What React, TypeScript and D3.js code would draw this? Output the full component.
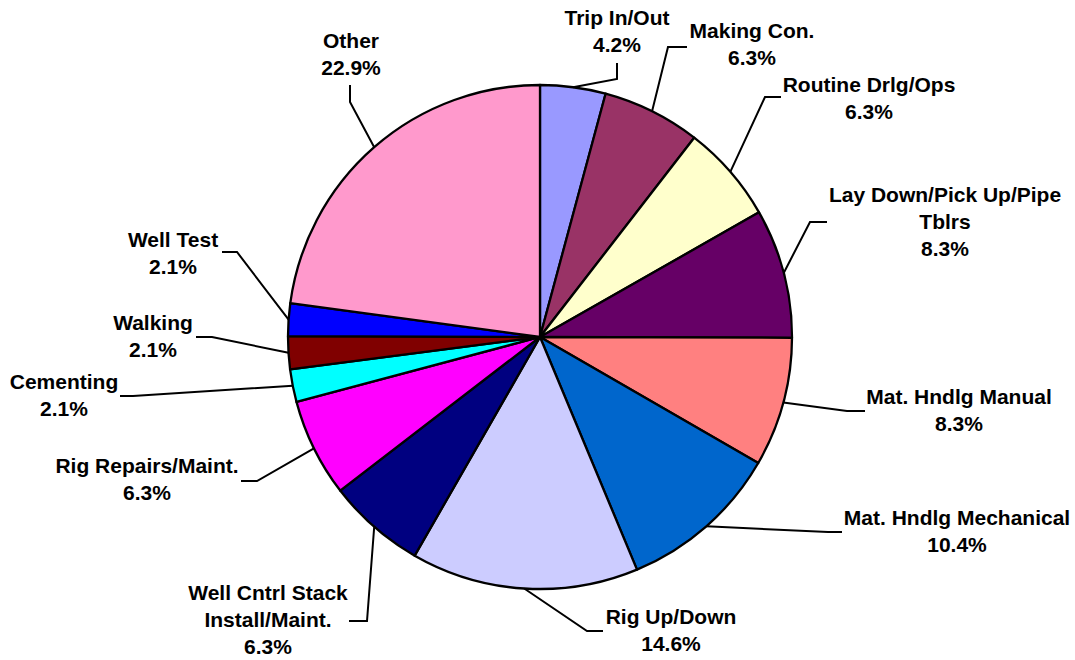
import React from "react";
import * as d3 from "d3";

const categories: string[][] = [
  ["Trip In/Out"],
  ["Making Con."],
  ["Routine Drlg/Ops"],
  ["Lay Down/Pick Up/Pipe", "Tblrs"],
  ["Mat. Hndlg Manual"],
  ["Mat. Hndlg Mechanical"],
  ["Rig Up/Down"],
  ["Well Cntrl Stack", "Install/Maint."],
  ["Rig Repairs/Maint."],
  ["Cementing"],
  ["Walking"],
  ["Well Test"],
  ["Other"],
];
const percents: number[] = [4.2, 6.3, 6.3, 8.3, 8.3, 10.4, 14.6, 6.3, 6.3, 2.1, 2.1, 2.1, 22.9];
const colors: string[] = [
  "#9999FF", "#993366", "#FFFFCC", "#660066", "#FF8080", "#0066CC", "#CCCCFF",
  "#000080", "#FF00FF", "#00FFFF", "#800000", "#0000FF", "#FF99CC",
];

// label layout: text center x, first baseline y, leader elbow, leader end
const labelLayout: { x: number; y: number; elbow: [number, number]; end: [number, number] }[] = [
  { x: 617, y: 25, elbow: [617, 79], end: [617, 63] },
  { x: 752, y: 38, elbow: [668, 47], end: [687, 47] },
  { x: 869, y: 92, elbow: [765, 97], end: [781, 97] },
  { x: 945, y: 202, elbow: [810, 222], end: [827, 222] },
  { x: 959, y: 404, elbow: [847, 411], end: [865, 411] },
  { x: 957, y: 525, elbow: [828, 532], end: [842, 532] },
  { x: 671, y: 624, elbow: [587, 631], end: [603, 631] },
  { x: 268, y: 600, elbow: [367, 621], end: [349, 621] },
  { x: 147, y: 473, elbow: [257, 481], end: [241, 481] },
  { x: 64, y: 389, elbow: [133, 396], end: [120, 396] },
  { x: 153, y: 330, elbow: [212, 337], end: [196, 337] },
  { x: 173, y: 247, elbow: [237, 252], end: [222, 252] },
  { x: 351, y: 48, elbow: [350, 102], end: [350, 85] },
];

const W = 1075;
const H = 660;
const CX = 540;
const CY = 337;
const R = 252;

export default function App() {
  const pie = d3.pie<number>().sort(null).value((d) => d);
  const arcs = pie(percents);
  const arc = d3.arc<d3.PieArcDatum<number>>().innerRadius(0).outerRadius(R);
  const edgeArc = d3.arc<d3.PieArcDatum<number>>().innerRadius(R).outerRadius(R);
  const lineGen = d3.line();

  return (
    <div style={{ position: "absolute", left: 0, top: 0 }}>
      <svg width={W} height={H} style={{ display: "block" }}>
        <rect width={W} height={H} fill="#fff" />
        <g transform={`translate(${CX},${CY})`}>
          {arcs.map((a, i) => (
            <path key={i} d={arc(a) || ""} fill={colors[i]} stroke="#000" strokeWidth={2.3} strokeLinejoin="round" />
          ))}
        </g>
        {arcs.map((a, i) => {
          const [ex, ey] = edgeArc.centroid(a);
          const L = labelLayout[i];
          const pts: [number, number][] = [[ex + CX, ey + CY], L.elbow, L.end];
          return <path key={"l" + i} d={lineGen(pts) || ""} fill="none" stroke="#000" strokeWidth={2} />;
        })}
        {arcs.map((a, i) => {
          const L = labelLayout[i];
          const lines = [...categories[i], `${percents[i].toFixed(1)}%`];
          return (
            <text
              key={"t" + i}
              x={L.x}
              y={L.y}
              textAnchor="middle"
              fontFamily="'Liberation Sans', Arial, sans-serif"
              fontWeight="bold"
              fontSize={21}
              fill="#000"
            >
              {lines.map((s, j) => (
                <tspan key={j} x={L.x} dy={j === 0 ? 0 : 27}>
                  {s}
                </tspan>
              ))}
            </text>
          );
        })}
      </svg>
    </div>
  );
}
